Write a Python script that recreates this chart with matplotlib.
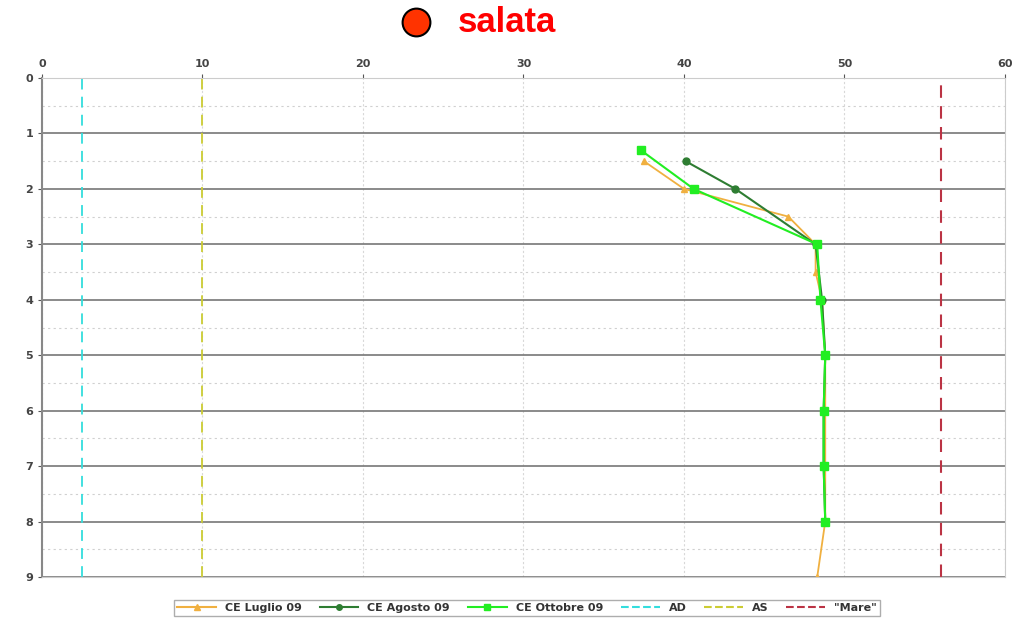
import matplotlib.pyplot as plt
from matplotlib.lines import Line2D

# depth (m) vs conductivity values
luglio_x = [37.5, 40.0, 46.5, 48.2, 48.2, 48.6, 48.8, 48.8, 48.8, 48.8, 48.3]
luglio_y = [1.5, 2.0, 2.5, 3.0, 3.5, 4.0, 5.0, 6.0, 7.0, 8.0, 9.0]

agosto_x = [40.1, 43.2, 48.2, 48.6, 48.8, 48.7, 48.7, 48.8]
agosto_y = [1.5, 2.0, 3.0, 4.0, 5.0, 6.0, 7.0, 8.0]

ottobre_x = [37.3, 40.6, 48.3, 48.5, 48.8, 48.7, 48.7, 48.8]
ottobre_y = [1.3, 2.0, 3.0, 4.0, 5.0, 6.0, 7.0, 8.0]

ad_value = 2.5
as_value = 10
mare_value = 56

fig = plt.figure(figsize=(10.19, 6.27), dpi=100)
ax = fig.add_axes([42 / 1019, 1 - 577 / 627, (1005 - 42) / 1019, (577 - 78) / 627])

ax.set_xlim(0, 60)
ax.set_ylim(9, 0)
ax.xaxis.tick_top()
ax.set_xticks(range(0, 61, 10))
ax.set_yticks(range(0, 10))
ax.set_yticks([i + 0.5 for i in range(9)], minor=True)
ax.tick_params(axis='both', labelsize=8, colors='#555555', length=3)
ax.tick_params(axis='y', which='minor', length=0)
for lab in ax.get_xticklabels() + ax.get_yticklabels():
    lab.set_fontweight('bold')
    lab.set_color('#444444')

ax.grid(axis='y', which='major', color='#777777', linewidth=1.2)
ax.grid(axis='y', which='minor', color='#d0d0d0', linewidth=0.8, linestyle=(0, (2, 3)))
ax.grid(axis='x', which='major', color='#d8d8d8', linewidth=0.8, linestyle=(0, (2, 2)))
for s in ['top', 'bottom', 'right']:
    ax.spines[s].set_color('#cccccc')
ax.spines['left'].set_color('#888888')
ax.spines['left'].set_linewidth(1.5)
ax.set_axisbelow(True)

ax.axvline(ad_value, color='#33dddd', linestyle=(0, (6, 4)), linewidth=1.3)
ax.axvline(as_value, color='#cccc33', linestyle=(0, (6, 4)), linewidth=1.3)
ax.axvline(mare_value, color='#bb3344', linestyle=(0, (6, 4)), linewidth=1.5)

ax.plot(luglio_x, luglio_y, color='#f0b040', marker='^', markersize=4, linewidth=1.3)
ax.plot(agosto_x, agosto_y, color='#2e7d32', marker='o', markersize=5, linewidth=1.5)
ax.plot(ottobre_x, ottobre_y, color='#22ee22', marker='s', markersize=6, linewidth=1.5)

handles = [
    Line2D([], [], color='#f0b040', marker='^', markersize=4),
    Line2D([], [], color='#2e7d32', marker='o', markersize=4),
    Line2D([], [], color='#22ee22', marker='s', markersize=5),
    Line2D([], [], color='#33dddd', linestyle='--'),
    Line2D([], [], color='#cccc33', linestyle='--'),
    Line2D([], [], color='#bb3344', linestyle='--'),
]
labels = ['CE Luglio 09', 'CE Agosto 09', 'CE Ottobre 09', 'AD', 'AS', '"Mare"']
leg = fig.legend(handles, labels, loc='center', bbox_to_anchor=(527 / 1019, 1 - 608 / 627),
                 ncol=6, fontsize=8, frameon=True, fancybox=False, edgecolor='#999999',
                 handlelength=3.5, columnspacing=1.6, borderpad=0.3)
for t in leg.get_texts():
    t.set_fontweight('bold')
    t.set_color('#333333')

fig.lines.append(Line2D([416 / 1019], [1 - 22 / 627], marker='o', markersize=20,
                        markerfacecolor='#ff3300', markeredgecolor='black',
                        markeredgewidth=1.5, transform=fig.transFigure))
fig.text(507 / 1019, 1 - 23 / 627, 'salata', color='#ff0000', fontsize=25,
         fontweight='bold', ha='center', va='center', family='Liberation Sans')

fig.savefig('out.png', dpi=100)
